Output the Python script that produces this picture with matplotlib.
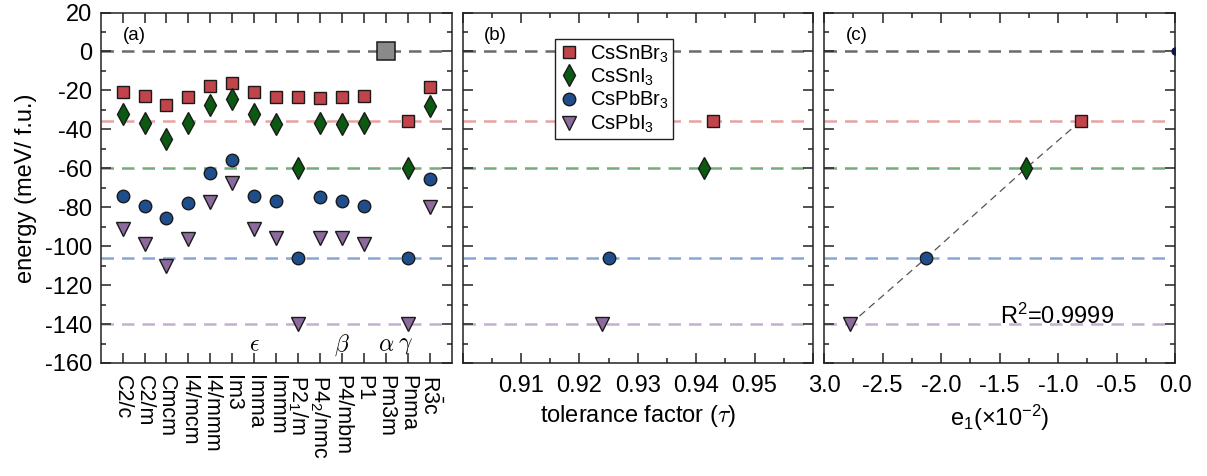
import numpy as np
import matplotlib
matplotlib.use("Agg")
import matplotlib.pyplot as plt
from matplotlib.ticker import MultipleLocator, FixedLocator, FixedFormatter

plt.rcParams['font.family'] = ['Liberation Sans', 'DejaVu Sans']
plt.rcParams['axes.unicode_minus'] = False
plt.rcParams['mathtext.fontset'] = 'custom'
plt.rcParams['mathtext.rm'] = 'Liberation Sans'
plt.rcParams['mathtext.it'] = 'Liberation Sans:italic'

# ---------------- data ----------------
categories = ['C2/c', 'C2/m', 'Cmcm', 'I4/mcm', 'I4/mmm', 'Im3', 'Imma', 'Immm',
              r'P2$_\mathregular{1}$/m', r'P4$_\mathregular{2}$/nmc', 'P4/mbm', 'P1',
              'Pm3m', 'Pnma', r'R$\mathregular{\bar{3}}$c']
nan = np.nan
cssnbr3 = [-20.6, -23.0, -27.5, -23.2, -17.7, -16.0, -21.0, -23.3, -23.2, -23.8, -23.2, -22.7, nan, -35.7, -18.5]
cssni3 = [-32.0, -36.9, -45.0, -36.9, -27.5, -24.2, -32.2, -37.0, -60.0, -36.9, -37.0, -36.5, nan, -59.8, -28.0]
cspbbr3 = [-74.2, -79.2, -85.4, -78.0, -62.4, -55.5, -74.2, -77.0, -106.0, -75.0, -77.0, -79.3, nan, -106.0, -65.5]
cspbi3 = [-91.0, -99.0, -110.0, -96.5, -77.3, -67.7, -91.0, -96.0, -140.0, -96.0, -96.0, -98.8, nan, -140.0, -79.7]
cubic_ref = 0.0            # Pm3m reference
cubic_index = 13
phase_labels = [r'$\epsilon$', r'$\beta$', r'$\alpha$', r'$\gamma$']
phase_pos = [7, 11, 13, 13.9]

compounds = [r'CsSnBr$_\mathregular{3}$', r'CsSnI$_\mathregular{3}$',
             r'CsPbBr$_\mathregular{3}$', r'CsPbI$_\mathregular{3}$']
ground_energy = [-35.7, -60.0, -106.0, -140.0]
tolerance = [0.9428, 0.9413, 0.9251, 0.9239]
e1 = [-0.806, -1.274, -2.126, -2.775]
r2_text = r'R$^\mathregular{2}$=0.9999'

# ---------------- styles ----------------
mcolors = ['#c0444a', '#0b5a12', '#1f4e8c', '#8d6a9e']
lcolors = ['#e6a3a5', '#74ad7a', '#88a6d2', '#c6afd0']
markers = ['s', 'd', 'o', 'v']
msizes = [9, 11, 9, 9.5]

fig = plt.figure(figsize=(12.07, 4.76), dpi=100)
bottom, height = 0.2374, 0.7363
ax_a = fig.add_axes([0.0834, bottom, 0.2908, height])
ax_b = fig.add_axes([0.3833, bottom, 0.2902, height])
ax_c = fig.add_axes([0.6827, bottom, 0.2908, height])

TICKFS = 17
spine_col = '#222222'


def style_axes(ax):
    for s in ax.spines.values():
        s.set_linewidth(1.1)
        s.set_color(spine_col)
    ax.set_ylim(-160, 20)
    ax.yaxis.set_major_locator(MultipleLocator(20))
    ax.yaxis.set_minor_locator(MultipleLocator(10))
    ax.tick_params(which='both', direction='in', top=True, right=True,
                   width=1.1, color=spine_col, labelsize=TICKFS)
    ax.tick_params(which='major', length=7)
    ax.tick_params(which='minor', length=3.5)
    ax.tick_params(axis='x', pad=9)
    ax.tick_params(axis='y', pad=6)


def ref_lines(ax):
    ax.axhline(0, xmin=0, xmax=0.975, color='#6a6a6a', lw=1.8, ls=(0, (5, 3.2)), zorder=1)
    for y, c in zip(ground_energy, lcolors):
        ax.axhline(y, xmin=0, xmax=0.975, color=c, lw=1.8, ls=(0, (5, 3.2)), zorder=1)


# ---------------- panel (a) ----------------
style_axes(ax_a)
ref_lines(ax_a)
x = np.arange(1, len(categories) + 1)
for vals, m, ms, c in zip([cssnbr3, cssni3, cspbbr3, cspbi3], markers, msizes, mcolors):
    ax_a.plot(x, vals, ls='none', marker=m, ms=ms, mfc=c, mec='#1a1a1a', mew=1.0, zorder=3)
ax_a.plot([cubic_index], [cubic_ref], ls='none', marker='s', ms=13.5, mfc='#8a8a8a',
          mec='#1a1a1a', mew=1.1, zorder=3)
ax_a.set_xlim(0, len(categories) + 1)
ax_a.xaxis.set_major_locator(FixedLocator(x))
ax_a.xaxis.set_minor_locator(FixedLocator([]))
ax_a.set_xticklabels(categories, rotation=270, va='top', ha='center', fontsize=15.5)
for lab, p in zip(phase_labels, phase_pos):
    ax_a.text(p, -151, lab, fontsize=17, ha='center', va='center', math_fontfamily='cm')
ax_a.text(0.062, 0.935, '(a)', transform=ax_a.transAxes, fontsize=13.5, ha='left', va='center')
ax_a.set_ylabel('energy (meV/ f.u.)', fontsize=17, labelpad=6)

# ---------------- panel (b) ----------------
style_axes(ax_b)
ref_lines(ax_b)
handles = []
for xv, yv, m, ms, c, lab in zip(tolerance, ground_energy, markers, msizes, mcolors, compounds):
    h, = ax_b.plot([xv], [yv], ls='none', marker=m, ms=ms, mfc=c, mec='#1a1a1a', mew=1.0,
                   zorder=3, label=lab)
    handles.append(h)
ax_b.set_xlim(0.90, 0.96)
ax_b.xaxis.set_major_locator(FixedLocator([0.90, 0.91, 0.92, 0.93, 0.94, 0.95, 0.96]))
ax_b.xaxis.set_major_formatter(FixedFormatter(['', '0.91', '0.92', '0.93', '0.94', '0.95', '']))
ax_b.xaxis.set_minor_locator(MultipleLocator(0.005))
ax_b.tick_params(axis='y', labelleft=False)
ax_b.set_xlabel(r'tolerance factor ($\tau$)', fontsize=17, labelpad=4, math_fontfamily='cm')
ax_b.text(0.062, 0.935, '(b)', transform=ax_b.transAxes, fontsize=13.5, ha='left', va='center')
leg = ax_b.legend(handles=handles, loc='upper left', bbox_to_anchor=(0.263, 0.9235),
                  fontsize=14.5, frameon=True, fancybox=False, edgecolor='#222222',
                  framealpha=1, borderpad=0.2, labelspacing=0.08, handlelength=1.0,
                  handletextpad=0.55, borderaxespad=0)
leg.get_frame().set_linewidth(1.0)

# ---------------- panel (c) ----------------
style_axes(ax_c)
ref_lines(ax_c)
ax_c.plot(e1, ground_energy, color='#555555', lw=0.9, ls=(0, (6, 4)), zorder=2)
for xv, yv, m, ms, c in zip(e1, ground_energy, markers, msizes, mcolors):
    ax_c.plot([xv], [yv], ls='none', marker=m, ms=ms, mfc=c, mec='#1a1a1a', mew=1.0, zorder=3)
ax_c.plot([0.0], [cubic_ref], ls='none', marker='o', ms=5, mfc='#101848', mec='#101848', zorder=3)
ax_c.set_xlim(-3.0, 0.0)
ax_c.xaxis.set_major_locator(FixedLocator([-3.0, -2.5, -2.0, -1.5, -1.0, -0.5, 0.0]))
ax_c.xaxis.set_major_formatter(FixedFormatter(['3.0', '-2.5', '-2.0', '-1.5', '-1.0', '-0.5', '0.0']))
ax_c.xaxis.set_minor_locator(MultipleLocator(0.25))
ax_c.tick_params(axis='y', labelleft=False)
ax_c.set_xlabel(r'e$_\mathregular{1}$($\mathregular{\times}$10$^\mathregular{-2}$)', fontsize=17, labelpad=4)
ax_c.text(-1.5, -140, r2_text, fontsize=17, ha='left', va='baseline')
ax_c.text(0.062, 0.935, '(c)', transform=ax_c.transAxes, fontsize=13.5, ha='left', va='center')

fig.savefig('out.png', dpi=100)
